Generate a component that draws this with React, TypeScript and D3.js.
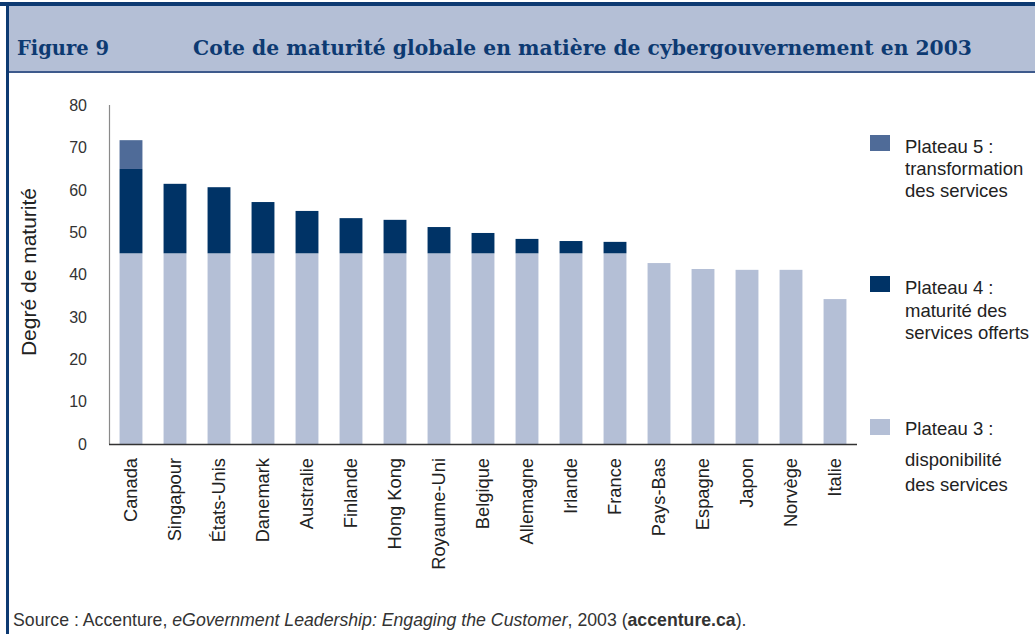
import React from "react";
import * as d3 from "d3";

const countries = [
  "Canada", "Singapour", "États-Unis", "Danemark", "Australie", "Finlande",
  "Hong Kong", "Royaume-Uni", "Belgique", "Allemagne", "Irlande", "France",
  "Pays-Bas", "Espagne", "Japon", "Norvège", "Italie",
];
const plateau3 = [45, 45, 45, 45, 45, 45, 45, 45, 45, 45, 45, 45, 42.7, 41.3, 41.1, 41.1, 34.2];
const plateau4 = [19.9, 16.4, 15.6, 12.1, 10.0, 8.3, 7.9, 6.2, 4.8, 3.4, 2.9, 2.7, 0, 0, 0, 0, 0];
const plateau5 = [6.8, 0, 0, 0, 0, 0, 0, 0, 0, 0, 0, 0, 0, 0, 0, 0, 0];
const yTicks = [0, 10, 20, 30, 40, 50, 60, 70, 80];

const seriesKeys = ["p3", "p4", "p5"];
const seriesColors: Record<string, string> = { p3: "#b4bfd6", p4: "#003366", p5: "#4f6b98" };
const legendItems = [
  { key: "p5", lines: ["Plateau 5 :", "transformation", "des services"] },
  { key: "p4", lines: ["Plateau 4 :", "maturité des", "services offerts"] },
  { key: "p3", lines: ["Plateau 3 :", "disponibilité", "des services"] },
];

const titleLabel = "Figure 9";
const titleText = "Cote de maturité globale en matière de cybergouvernement en 2003";
const yTitle = "Degré de maturité";

export default function App() {
  const W = 1035, H = 634;
  const x = d3.scaleBand<string>().domain(countries).range([109, 857]).paddingInner(0.48).paddingOuter(0.24);
  const y = d3.scaleLinear().domain([0, 80]).range([444, 105]);
  const rows = countries.map((c, i) => ({ c, p3: plateau3[i], p4: plateau4[i], p5: plateau5[i] }));
  const stacked = d3.stack<any>().keys(seriesKeys)(rows);

  const sans = "'Liberation Sans', Arial, Helvetica, sans-serif";
  const serif = "'DejaVu Serif', 'Liberation Serif', serif";

  const legendSquares = [
    { y: 135, lines: [153, 175, 197] },
    { y: 276, lines: [294, 317, 339] },
    { y: 419, lines: [435, 466, 491] },
  ];

  return (
    <div style={{ position: "absolute", left: 0, top: 0 }}>
      <svg width={W} height={H} style={{ display: "block", background: "#fff" }}>
        {/* header band */}
        <rect x={8} y={5} width={W - 8} height={67} fill="#b4bfd6" />
        <rect x={0} y={2} width={W} height={4} fill="#0d3a72" />
        <rect x={8} y={71} width={W - 8} height={2} fill="#3e5a8c" />
        <rect x={6} y={2} width={3} height={H - 2} fill="#0d3a72" />
        <text x={17} y={55} fontFamily={serif} fontWeight="bold" fontSize={21} fill="#0d3a72"
          textLength={92} lengthAdjust="spacingAndGlyphs">{titleLabel}</text>
        <text x={193} y={55} fontFamily={serif} fontWeight="bold" fontSize={21} fill="#0d3a72"
          textLength={779} lengthAdjust="spacingAndGlyphs">{titleText}</text>

        {/* bars */}
        {stacked.map((s) => (
          <g key={s.key} fill={seriesColors[s.key]}>
            {s.map((d, i) =>
              d[1] - d[0] > 0 ? (
                <rect key={i} x={x(countries[i])} y={y(d[1])} width={x.bandwidth()} height={y(d[0]) - y(d[1])} />
              ) : null
            )}
          </g>
        ))}

        {/* axes */}
        <line x1={109.5} x2={109.5} y1={105} y2={444} stroke="#8a8a8a" strokeWidth={1.2} />
        <line x1={109} x2={857} y1={444.5} y2={444.5} stroke="#333" strokeWidth={1.3} />
        {yTicks.map((t) => (
          <text key={t} x={87} y={y(t)} dy="0.36em" textAnchor="end" fontFamily={sans} fontSize={16} fill="#333">{t}</text>
        ))}
        {countries.map((c) => (
          <text key={c} transform={`translate(${(x(c) as number) + x.bandwidth() / 2 - 1},${458}) rotate(-90)`}
            dy="0.36em" textAnchor="end" fontFamily={sans} fontSize={18.3} fill="#222">{c}</text>
        ))}
        <text transform={`translate(36,272) rotate(-90)`} textAnchor="middle" fontFamily={sans} fontSize={21} fill="#222">{yTitle}</text>

        {/* legend */}
        {legendItems.map((it, k) => (
          <g key={it.key}>
            <rect x={870} y={legendSquares[k].y} width={20} height={16} fill={seriesColors[it.key]} />
            {it.lines.map((ln, j) => (
              <text key={j} x={905} y={legendSquares[k].lines[j]} fontFamily={sans} fontSize={18.5} fill="#222">{ln}</text>
            ))}
          </g>
        ))}

        {/* source */}
        <text x={13} y={626} fontFamily={sans} fontSize={17.7} fill="#333">
          <tspan>Source : Accenture, </tspan>
          <tspan fontStyle="italic">eGovernment Leadership: Engaging the Customer</tspan>
          <tspan>, 2003 (</tspan>
          <tspan fontWeight="bold">accenture.ca</tspan>
          <tspan>).</tspan>
        </text>
      </svg>
    </div>
  );
}
